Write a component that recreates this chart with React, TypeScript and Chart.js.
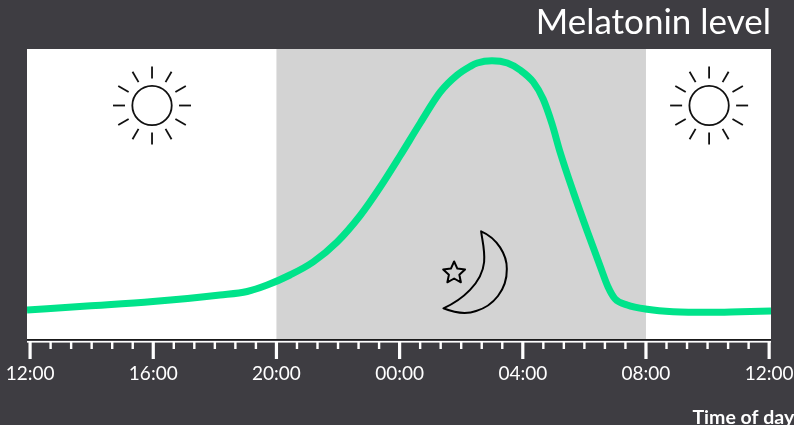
import React, { useEffect, useRef } from "react";
import { Chart, registerables } from "chart.js";

Chart.register(...registerables);

// hours since 12:00 noon
const hours = [-0.1, 1.85, 3.99, 6.17, 7.05, 7.7, 8.44, 9.19, 9.97, 10.72, 11.37, 12.02, 12.67, 13.32, 13.87, 14.29, 14.52, 15.0, 15.5, 15.91, 16.34, 16.66, 16.95, 17.21, 17.64, 18.09, 18.51, 18.77, 19.0, 19.39, 20.04, 20.88, 22.08, 23.06, 24.06];
const melatonin = [29, 33, 37.5, 44, 47.5, 54, 64, 77, 97, 123.5, 152, 183.5, 216, 247, 264, 272.5, 276, 278.3, 276, 269, 257, 240, 215, 187, 147, 108, 73, 52, 40, 34, 29.7, 27.3, 26.7, 27.3, 28];
const majorHours = [0, 4, 8, 12, 16, 20, 24];
const majorLabels = ["12:00", "16:00", "20:00", "00:00", "04:00", "08:00", "12:00"];
const minorPerMajor = [1, 2, 3, 4, 5];
const nightStart = 8;
const nightEnd = 20;
const sunHours = [3.96, 22.05];
const sunLevel = 233.5;
const moonHour = 13.9;
const moonLevel = 69;
const titleText = "Melatonin level";
const xAxisText = "Time of day";

const BG = "#3E3D42";

function drawSun(ctx: CanvasRenderingContext2D, cx: number, cy: number) {
  ctx.save();
  ctx.strokeStyle = "#111";
  ctx.lineWidth = 1.8;
  ctx.beginPath();
  ctx.arc(cx, cy, 19.7, 0, Math.PI * 2);
  ctx.stroke();
  for (let i = 0; i < 12; i++) {
    const a = (i * Math.PI) / 6;
    ctx.beginPath();
    ctx.moveTo(cx + 27 * Math.cos(a), cy + 27 * Math.sin(a));
    ctx.lineTo(cx + 39 * Math.cos(a), cy + 39 * Math.sin(a));
    ctx.stroke();
  }
  ctx.restore();
}

function drawMoon(ctx: CanvasRenderingContext2D, cx: number, cy: number) {
  ctx.save();
  ctx.strokeStyle = "#000";
  ctx.lineWidth = 2;
  ctx.lineJoin = "round";
  // crescent, relative to its anchor
  ctx.beginPath();
  ctx.moveTo(cx + 23, cy - 38.7);
  ctx.bezierCurveTo(cx + 39, cy - 32, cx + 49, cy - 15, cx + 48.7, cy - 1);
  ctx.bezierCurveTo(cx + 49, cy + 20, cx + 35, cy + 36, cx + 18, cy + 41);
  ctx.bezierCurveTo(cx + 7, cy + 45, cx - 3, cy + 43, cx - 14.7, cy + 38.3);
  ctx.bezierCurveTo(cx + 4, cy + 30, cx + 24, cy + 13, cx + 26, cy - 8);
  ctx.bezierCurveTo(cx + 27, cy - 20, cx + 24, cy - 30, cx + 23, cy - 38.7);
  ctx.closePath();
  ctx.stroke();
  // star
  const sx = cx - 4;
  const sy = cy + 3;
  ctx.beginPath();
  for (let i = 0; i < 10; i++) {
    const r = i % 2 === 0 ? 11.5 : 5.5;
    const a = -Math.PI / 2 + (i * Math.PI) / 5;
    const px = sx + r * Math.cos(a);
    const py = sy + r * Math.sin(a);
    if (i === 0) ctx.moveTo(px, py);
    else ctx.lineTo(px, py);
  }
  ctx.closePath();
  ctx.stroke();
  ctx.restore();
}

const decorPlugin = {
  id: "decor",
  beforeDatasetsDraw(chart: any) {
    const { ctx, chartArea: a, scales } = chart;
    const x = scales.x;
    const y = scales.y;
    ctx.save();
    ctx.fillStyle = "#FFFFFF";
    ctx.fillRect(a.left, a.top, a.right - a.left, a.bottom - a.top);
    ctx.fillStyle = "#D3D3D3";
    const nx0 = x.getPixelForValue(nightStart);
    const nx1 = x.getPixelForValue(nightEnd);
    ctx.fillRect(nx0, a.top, nx1 - nx0, a.bottom - a.top);
    sunHours.forEach((h) => drawSun(ctx, x.getPixelForValue(h), y.getPixelForValue(sunLevel)));
    drawMoon(ctx, x.getPixelForValue(moonHour), y.getPixelForValue(moonLevel));
    // black baseline
    ctx.fillStyle = "#1A1A1A";
    ctx.fillRect(a.left, a.bottom, a.right - a.left, 1);
    // white axis line
    ctx.fillStyle = "#FFFFFF";
    ctx.fillRect(a.left, a.bottom + 2, a.right - a.left, 1.6);
    x.ticks.forEach((t: any) => {
      const px = x.getPixelForValue(t.value);
      const major = majorHours.includes(t.value);
      const w = major ? 3.2 : 2.4;
      const len = major ? 18 : 8;
      ctx.fillRect(px - w / 2, a.bottom + 2, w, len);
    });
    // axis caption
    ctx.fillStyle = "#FFFFFF";
    ctx.font = "bold 19.5px Lato";
    ctx.textAlign = "left";
    ctx.textBaseline = "alphabetic";
    ctx.fillText(xAxisText, 692.5, 424);
    ctx.restore();
  },
};

export default function App() {
  const ref = useRef<HTMLCanvasElement>(null);
  useEffect(() => {
    document.body.style.margin = "0";
    document.body.style.background = BG;
    const chart = new Chart(ref.current as HTMLCanvasElement, {
      type: "line",
      data: {
        datasets: [
          {
            data: hours.map((h, i) => ({ x: h, y: melatonin[i] })),
            borderColor: "#00E38A",
            borderWidth: 7,
            pointRadius: 0,
            cubicInterpolationMode: "monotone",
            fill: false,
          },
        ],
      },
      plugins: [decorPlugin],
      options: {
        animation: false,
        responsive: false,
        layout: { padding: { left: 27, right: 23, top: 0, bottom: 0 } },
        plugins: {
          legend: { display: false },
          tooltip: { enabled: false },
          title: {
            display: true,
            text: titleText,
            align: "end",
            color: "#FFFFFF",
            fullSize: false,
            font: { family: "Lato", size: 35, weight: "normal" },
            padding: { top: 2, bottom: 5 },
          },
        },
        scales: {
          x: {
            type: "linear",
            min: -0.1,
            max: 24.06,
            border: { display: false },
            grid: { display: false, drawTicks: false },
            afterBuildTicks(axis: any) {
              const ticks: { value: number }[] = [];
              majorHours.forEach((h, i) => {
                ticks.push({ value: h });
                if (i < majorHours.length - 1)
                  minorPerMajor.forEach((m) => ticks.push({ value: h + (m * 4) / 6 }));
              });
              axis.ticks = ticks;
            },
            afterFit(axis: any) {
              axis.height = 86;
              axis.paddingLeft = 0;
              axis.paddingRight = 0;
            },
            ticks: {
              autoSkip: false,
              maxRotation: 0,
              minRotation: 0,
              padding: 23,
              color: "#FFFFFF",
              font: { family: "Lato", size: 19 },
              callback(value: any) {
                const i = majorHours.indexOf(value);
                return i >= 0 ? majorLabels[i] : "";
              },
            },
          },
          y: {
            display: false,
            min: 0,
            max: 290,
          },
        },
      },
    } as any);
    return () => chart.destroy();
  }, []);
  return (
    <div style={{ width: 794, height: 425, background: BG, overflow: "hidden" }}>
      <canvas ref={ref} width={794} height={425} style={{ display: "block", width: 794, height: 425 }} />
    </div>
  );
}
